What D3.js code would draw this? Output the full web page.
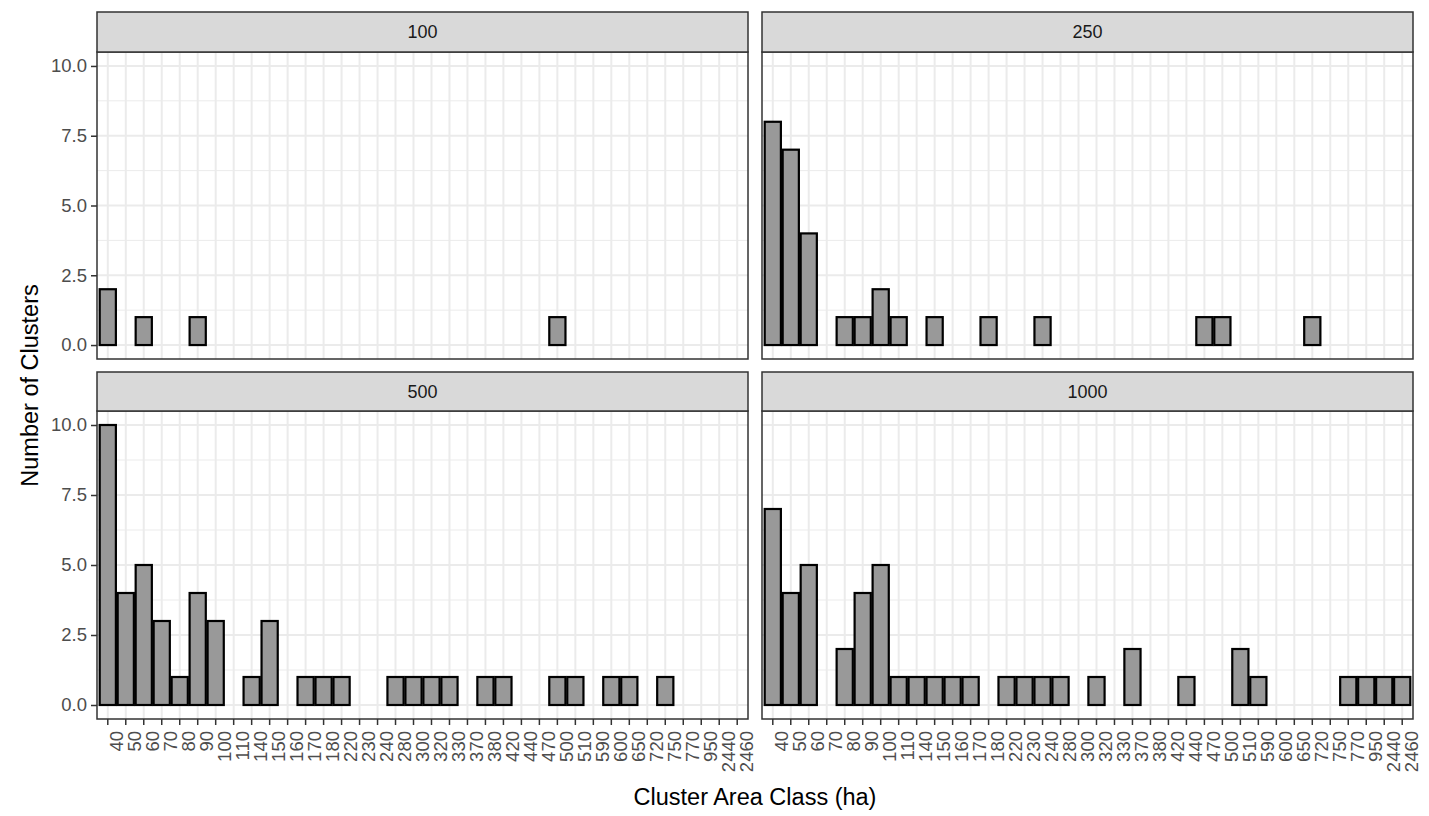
<!DOCTYPE html>
<html lang="en">
<head>
  <meta charset="UTF-8">
  <title>Cluster Area Class</title>
  <style>
    body { margin: 0; background: #fff; font-family: "Liberation Sans", Arial, sans-serif; }
    svg { display: block; }
  </style>
  <script src="https://d3js.org/d3.v7.min.js"></script>
</head>
<body>
  <div id="chart"></div>
  <script>
  // area classes (ha) on the x axis
  const areaClasses = ['40','50','60','70','80','90','100','110','140','150',
    '160','170','180','220','230','240','280','300','320','330',
    '370','380','420','440','470','500','510','590','600','650',
    '720','750','770','950','2440','2460'];

  const panelNames = ['100','250','500','1000'];

  // number of clusters per class, 0 = no bar
  const counts100  = [2,0,1,0,0,1,0,0,0,0, 0,0,0,0,0,0,0,0,0,0, 0,0,0,0,0,1,0,0,0,0, 0,0,0,0,0,0];
  const counts250  = [8,7,4,0,1,1,2,1,0,1, 0,0,1,0,0,1,0,0,0,0, 0,0,0,0,1,1,0,0,0,0, 1,0,0,0,0,0];
  const counts500  = [10,4,5,3,1,4,3,0,1,3, 0,1,1,1,0,0,1,1,1,1, 0,1,1,0,0,1,1,0,1,1, 0,1,0,0,0,0];
  const counts1000 = [7,4,5,0,2,4,5,1,1,1, 1,1,0,1,1,1,1,0,1,0, 2,0,0,1,0,0,2,1,0,0, 0,0,1,1,1,1];

  const yTicks = [0, 2.5, 5, 7.5, 10];
  const yMinor = [1.25, 3.75, 6.25, 8.75];

  const W = 1429, H = 816;
  const cols = [[97, 748], [762, 1413]];
  const rows = [{strip: 12, top: 52, bottom: 359}, {strip: 372, top: 411, bottom: 719}];

  const svg = d3.select('#chart').append('svg')
    .attr('width', W).attr('height', H);

  const series = [counts100, counts250, counts500, counts1000];

  panelNames.forEach((name, i) => {
    const c = cols[i % 2], r = rows[Math.floor(i / 2)];
    const x = d3.scaleBand().domain(areaClasses).range(c)
      .paddingInner(0.1).paddingOuter(0.15);
    const y = d3.scaleLinear().domain([-0.5, 10.5]).range([r.bottom, r.top]);
    const g = svg.append('g');

    // panel background + grid
    g.append('rect').attr('x', c[0]).attr('y', r.top)
      .attr('width', c[1] - c[0]).attr('height', r.bottom - r.top)
      .attr('fill', '#fff');
    g.selectAll('.minor').data(yMinor).join('line')
      .attr('x1', c[0]).attr('x2', c[1])
      .attr('y1', d => y(d)).attr('y2', d => y(d))
      .attr('stroke', '#ebebeb').attr('stroke-width', 1);
    g.selectAll('.majy').data(yTicks).join('line')
      .attr('x1', c[0]).attr('x2', c[1])
      .attr('y1', d => y(d)).attr('y2', d => y(d))
      .attr('stroke', '#ebebeb').attr('stroke-width', 2);
    g.selectAll('.majx').data(areaClasses).join('line')
      .attr('x1', d => x(d) + x.bandwidth() / 2).attr('x2', d => x(d) + x.bandwidth() / 2)
      .attr('y1', r.top).attr('y2', r.bottom)
      .attr('stroke', '#ebebeb').attr('stroke-width', 2);

    // bars
    const bars = areaClasses.map((k, j) => ({k, v: series[i][j]})).filter(d => d.v > 0);
    g.selectAll('.bar').data(bars).join('rect')
      .attr('x', d => x(d.k)).attr('y', d => y(d.v))
      .attr('width', x.bandwidth()).attr('height', d => y(0) - y(d.v))
      .attr('fill', '#999999').attr('stroke', '#000').attr('stroke-width', 2.2);

    // border
    g.append('rect').attr('x', c[0]).attr('y', r.top)
      .attr('width', c[1] - c[0]).attr('height', r.bottom - r.top)
      .attr('fill', 'none').attr('stroke', '#333').attr('stroke-width', 1.5);

    // strip
    g.append('rect').attr('x', c[0]).attr('y', r.strip)
      .attr('width', c[1] - c[0]).attr('height', r.top - r.strip)
      .attr('fill', '#d9d9d9').attr('stroke', '#333').attr('stroke-width', 1.5);
    g.append('text').attr('x', (c[0] + c[1]) / 2).attr('y', (r.strip + r.top) / 2)
      .attr('dy', '0.35em').attr('text-anchor', 'middle')
      .attr('font-size', 18).attr('fill', '#1a1a1a').text(name);

    // y axis on left column
    if (i % 2 === 0) {
      const ya = g.append('g').attr('transform', `translate(${c[0]},0)`)
        .call(d3.axisLeft(y).tickValues(yTicks).tickFormat(d3.format('.1f')).tickSize(6).tickPadding(4));
      ya.select('.domain').remove();
      ya.selectAll('line').attr('stroke', '#333').attr('stroke-width', 1.5);
      ya.selectAll('text').attr('font-size', 18.5).attr('fill', '#4d4d4d')
        .attr('font-family', '"Liberation Sans", Arial, sans-serif');
    }

    // x axis on bottom row
    if (i >= 2) {
      const xa = g.append('g').attr('transform', `translate(0,${r.bottom})`)
        .call(d3.axisBottom(x).tickSize(6));
      xa.select('.domain').remove();
      xa.selectAll('line').attr('stroke', '#333').attr('stroke-width', 1.5);
      xa.selectAll('text')
        .attr('font-size', 18.5).attr('fill', '#4d4d4d')
        .attr('font-family', '"Liberation Sans", Arial, sans-serif')
        .attr('text-anchor', 'end')
        .attr('x', 0).attr('y', 0).attr('dy', '0.35em')
        .attr('transform', 'translate(9,12) rotate(-90)');
    }
  });

  // axis titles
  svg.append('text')
    .attr('x', (cols[0][0] + cols[1][1]) / 2).attr('y', 805)
    .attr('text-anchor', 'middle').attr('font-size', 23.5).attr('fill', '#000')
    .text('Cluster Area Class (ha)');
  svg.append('text')
    .attr('transform', `translate(38,${(rows[0].top + rows[1].bottom) / 2}) rotate(-90)`)
    .attr('text-anchor', 'middle').attr('font-size', 23.5).attr('fill', '#000')
    .text('Number of Clusters');
  </script>
</body>
</html>
